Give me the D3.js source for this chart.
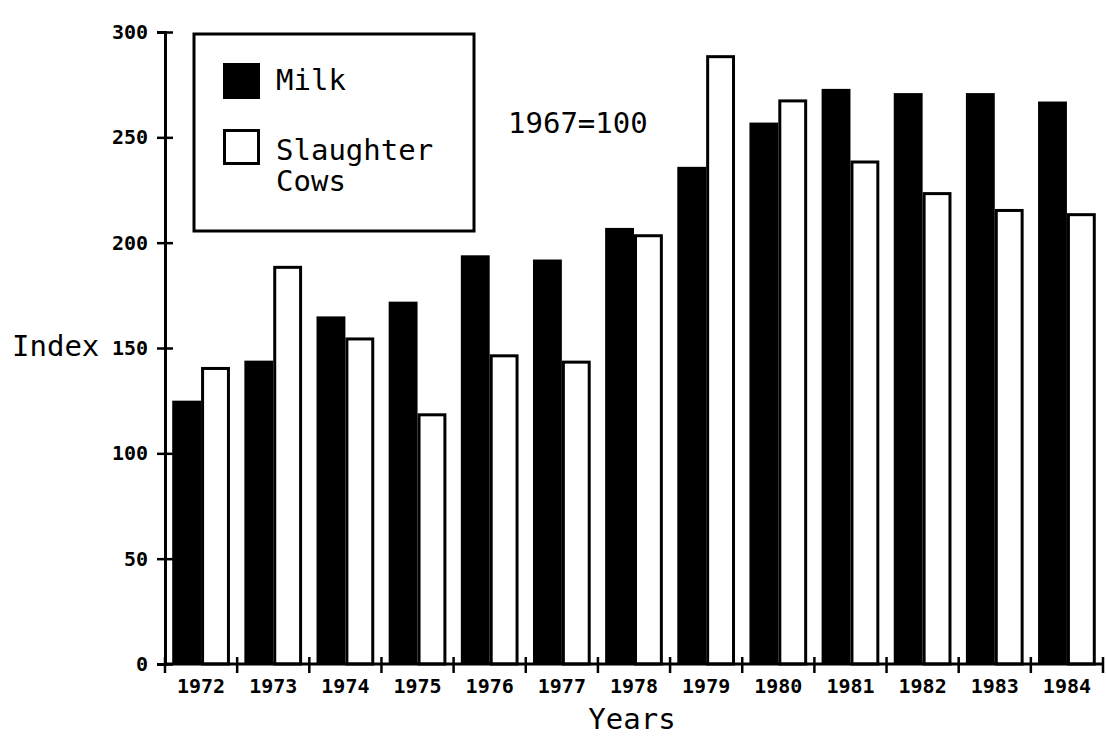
<!DOCTYPE html>
<html>
<head>
<meta charset="utf-8">
<script src="https://cdn.jsdelivr.net/npm/d3@7"></script>
<style>
  body { margin: 0; background: #fff; }
  svg { display: block; }
  text { font-family: "DejaVu Sans Mono", monospace; fill: #000; }
  .tick-label { font-weight: bold; font-size: 20px; }
</style>
</head>
<body>
<div id="svg-container"></div>
<script>
//////////////  Data  //////////////
const years = ["1972", "1973", "1974", "1975", "1976", "1977", "1978",
  "1979", "1980", "1981", "1982", "1983", "1984"];
const milk = [125, 144, 165, 172, 194, 192, 207, 236, 257, 273, 271, 271, 267];
const slaughterCows = [141, 189, 155, 119, 147, 144, 204, 289, 268, 239, 224, 216, 214];
const yTicks = [0, 50, 100, 150, 200, 250, 300];
const seriesNames = ["Milk", "Slaughter Cows"];

//////////////  Init  //////////////
const width = 1106;
const height = 737;
const svg = d3.select("#svg-container").append("svg")
  .attr("width", width).attr("height", height);

const margin = { top: 32, right: 3, bottom: 73, left: 165 };

// scales
const xScale = d3.scaleBand()
  .domain(years)
  .range([margin.left, width - margin.right])
  .paddingInner(0.2)
  .paddingOuter(0.1);

const subScale = d3.scaleBand()
  .domain(seriesNames)
  .range([0, xScale.bandwidth()]);

const yScale = d3.scaleLinear().domain([0, 300]).range([height - margin.bottom, margin.top]);

const rows = years.map((y, i) => ({ year: y, values: [
  { key: "Milk", value: milk[i] },
  { key: "Slaughter Cows", value: slaughterCows[i] }
] }));

// bars
const groups = svg.append("g").selectAll("g")
  .data(rows)
  .join("g")
  .attr("transform", (d) => `translate(${xScale(d.year)},0)`);

groups.selectAll("rect")
  .data((d) => d.values)
  .join("rect")
  .attr("x", (d) => subScale(d.key) + (d.key === "Milk" ? 0 : 1.5))
  .attr("width", (d) => subScale.bandwidth() - (d.key === "Milk" ? 0 : 3))
  .attr("y", (d) => yScale(d.value) + (d.key === "Milk" ? 0 : 1.5))
  .attr("height", (d) => yScale(0) - yScale(d.value) - (d.key === "Milk" ? 0 : 1.5))
  .attr("fill", (d) => (d.key === "Milk" ? "#000" : "#fff"))
  .attr("stroke", (d) => (d.key === "Milk" ? "none" : "#000"))
  .attr("stroke-width", 3);

// x axis: labels centered on bands, ticks on band boundaries
const xAxis = d3.axisBottom(xScale).tickSize(0).tickPadding(15);
const gx = svg.append("g")
  .attr("transform", `translate(0,${yScale(0)})`)
  .call(xAxis);
gx.select(".domain").remove();
gx.selectAll("text").attr("class", "tick-label");

const step = xScale.step();
const boundaries = years.map((y) => xScale(y) - step * xScale.paddingInner() / 2)
  .concat([xScale(years[years.length - 1]) + xScale.bandwidth() + step * xScale.paddingInner() / 2]);

svg.append("line")
  .attr("x1", margin.left).attr("x2", width - margin.right)
  .attr("y1", yScale(0)).attr("y2", yScale(0))
  .attr("stroke", "#000").attr("stroke-width", 3);

svg.append("g").selectAll("line")
  .data(boundaries)
  .join("line")
  .attr("x1", (d) => d).attr("x2", (d) => d)
  .attr("y1", yScale(0) - 7).attr("y2", yScale(0) + 9)
  .attr("stroke", "#000").attr("stroke-width", 2.5);

// y axis
const yAxis = d3.axisLeft(yScale).tickValues(yTicks).tickSize(8).tickPadding(9);
const gy = svg.append("g")
  .attr("transform", `translate(${margin.left},0)`)
  .call(yAxis);
gy.select(".domain").attr("stroke-width", 3);
gy.selectAll(".tick line").attr("x1", 8).attr("x2", -8).attr("stroke-width", 2.5);
gy.selectAll("text").attr("class", "tick-label");

// axis titles
svg.append("text").attr("x", 12).attr("y", 356)
  .style("font-size", "29px").text("Index");
svg.append("text").attr("x", 632).attr("y", 729)
  .attr("text-anchor", "middle").style("font-size", "29px").text("Years");

// annotation
svg.append("text").attr("x", 508).attr("y", 133)
  .style("font-size", "29px").text("1967=100");

// legend
const legend = svg.append("g");
legend.append("rect")
  .attr("x", 194).attr("y", 34).attr("width", 280).attr("height", 197)
  .attr("fill", "#fff").attr("stroke", "#000").attr("stroke-width", 3);

legend.append("rect")
  .attr("x", 223).attr("y", 63).attr("width", 37).attr("height", 36)
  .attr("fill", "#000");
legend.append("text").attr("x", 276).attr("y", 90)
  .style("font-size", "29px").text(seriesNames[0]);

legend.append("rect")
  .attr("x", 224.5).attr("y", 130.5).attr("width", 34).attr("height", 33)
  .attr("fill", "#fff").attr("stroke", "#000").attr("stroke-width", 3);
legend.append("text").attr("x", 276).attr("y", 160)
  .style("font-size", "29px").text("Slaughter");
legend.append("text").attr("x", 276).attr("y", 191)
  .style("font-size", "29px").text("Cows");
</script>
</body>
</html>
